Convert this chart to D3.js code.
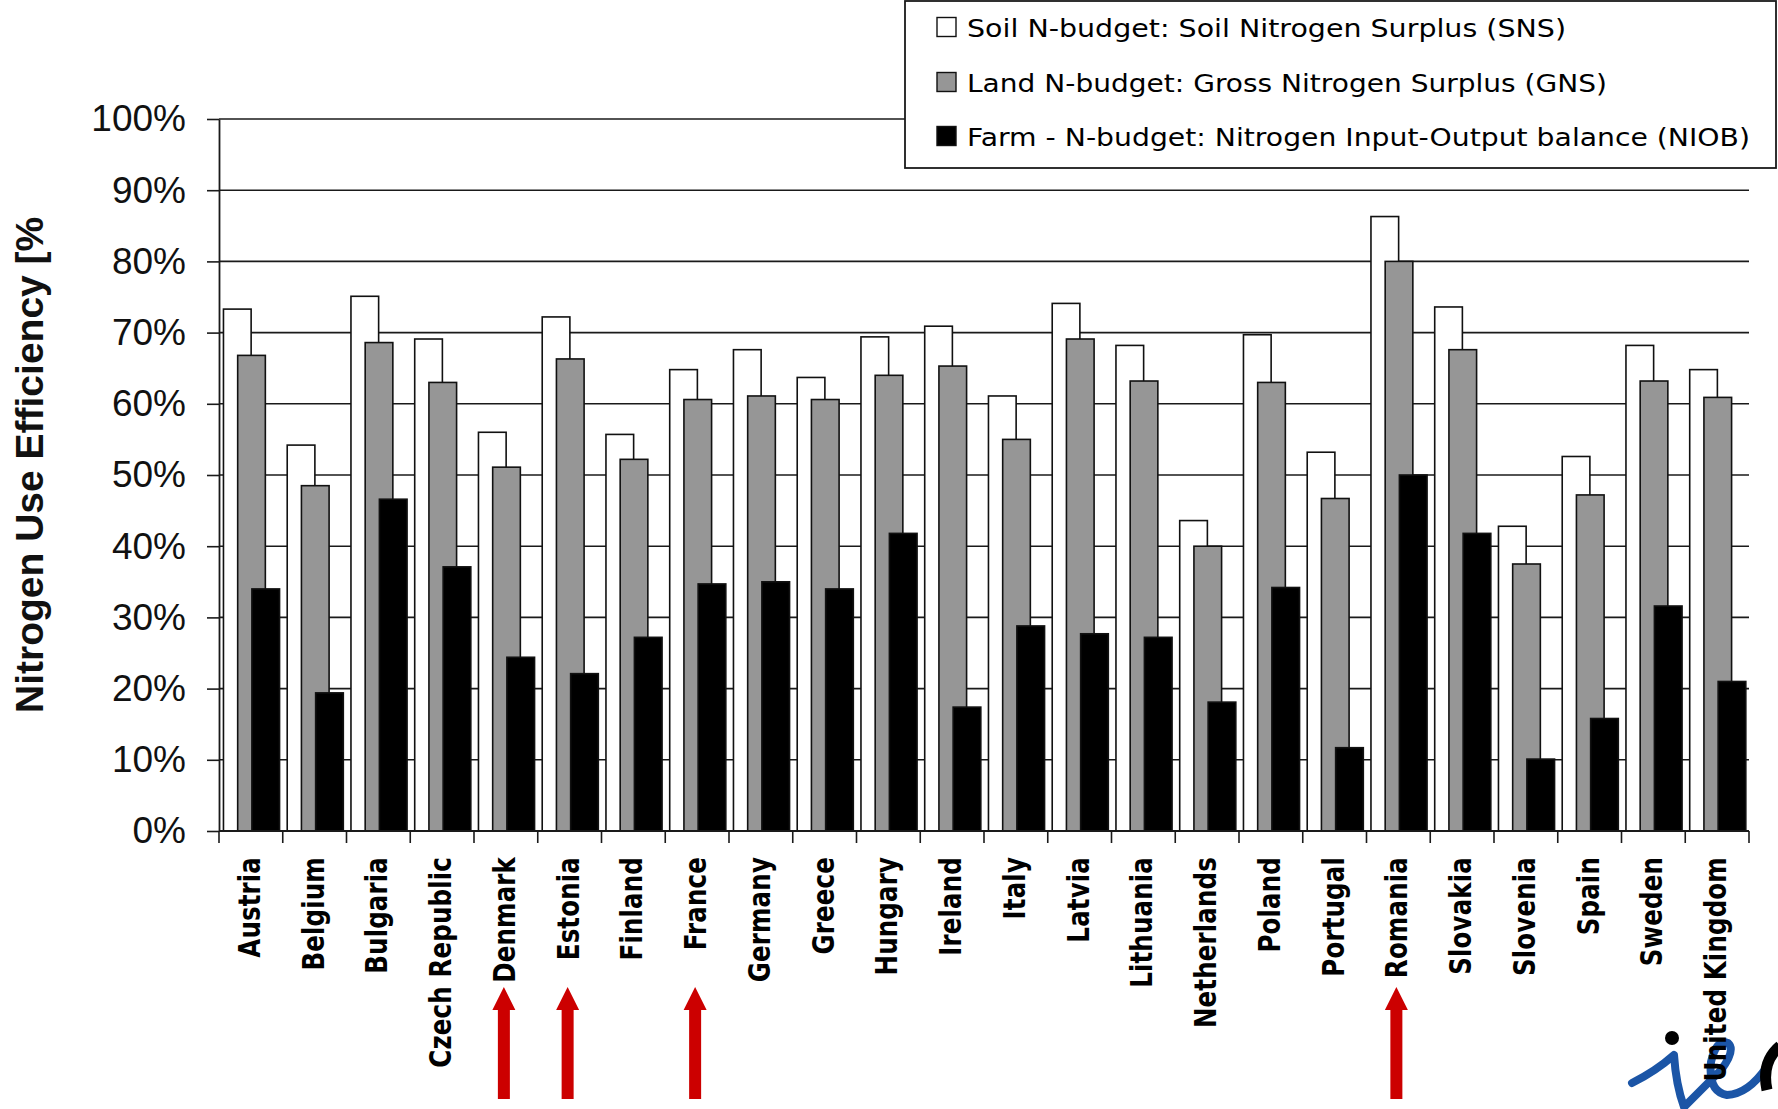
<!DOCTYPE html>
<html>
<head>
<meta charset="utf-8">
<script src="https://cdn.jsdelivr.net/npm/d3@7"></script>
<style>
  html, body { margin: 0; padding: 0; background: #fff; }
  svg { display: block; }
</style>
</head>
<body>
<svg id="chart" width="1778" height="1109"></svg>
<script>
// Nitrogen use efficiency per EU member state, three budget approaches
const categories = ["Austria", "Belgium", "Bulgaria", "Czech Republic", "Denmark", "Estonia",
  "Finland", "France", "Germany", "Greece", "Hungary", "Ireland", "Italy", "Latvia",
  "Lithuania", "Netherlands", "Poland", "Portugal", "Romania", "Slovakia", "Slovenia",
  "Spain", "Sweden", "United Kingdom"];

// Soil N-budget: Soil Nitrogen Surplus (SNS), %
const snsValues = [73.3, 54.2, 75.1, 69.1, 56.0, 72.2, 55.7, 64.8, 67.6, 63.7, 69.4, 70.9,
  61.1, 74.1, 68.2, 43.6, 69.7, 53.2, 86.3, 73.6, 42.8, 52.6, 68.2, 64.8];

// Land N-budget: Gross Nitrogen Surplus (GNS), %
const gnsValues = [66.8, 48.5, 68.6, 63.0, 51.1, 66.3, 52.2, 60.6, 61.1, 60.6, 64.0, 65.3,
  55.0, 69.1, 63.2, 40.0, 63.0, 46.7, 80.0, 67.6, 37.5, 47.2, 63.2, 60.9];

// Farm N-budget: Nitrogen Input-Output balance (NIOB), %
const niobValues = [34.0, 19.4, 46.6, 37.1, 24.4, 22.1, 27.2, 34.7, 35.0, 34.0, 41.8, 17.4,
  28.8, 27.7, 27.2, 18.1, 34.2, 11.7, 50.0, 41.8, 10.1, 15.8, 31.6, 21.0];

const seriesNames = [
  "Soil N-budget: Soil Nitrogen Surplus (SNS)",
  "Land N-budget: Gross Nitrogen Surplus (GNS)",
  "Farm - N-budget: Nitrogen Input-Output balance (NIOB)"
];
const seriesColors = ["#ffffff", "#969696", "#000000"];

const yTicks = [0, 10, 20, 30, 40, 50, 60, 70, 80, 90, 100];
const highlighted = ["Denmark", "Estonia", "France", "Romania"];

const yTitle = "Nitrogen Use Efficiency [%";

// ---------------------------------------------------------------
const svg = d3.select("#chart");
const plot = { left: 219, right: 1749, top: 119, bottom: 831 };

const x = d3.scaleBand().domain(categories).range([plot.left, plot.right]);
const y = d3.scaleLinear().domain([0, 100]).range([plot.bottom, plot.top]);
const bw = x.bandwidth();

const series = [snsValues, gnsValues, niobValues];
// three overlapping bars per country
const barW = bw * 0.434;
const barStep = bw * 0.223;
const barOffset = bw * 0.07;

// Logo (bottom right corner), drawn first so the axis labels sit on top
const logo = svg.append("g").attr("class", "logo");
logo.append("path")
  .attr("d", "M1632,1083 Q1656,1071 1674,1055 Q1676,1085 1684,1107 Q1703,1088 1721,1070 Q1736,1050 1728,1043 Q1716,1039 1711,1062 Q1708,1092 1727,1095 Q1748,1094 1766,1068")
  .attr("fill", "none").attr("stroke", "#1b55a6").attr("stroke-width", 8)
  .attr("stroke-linecap", "round").attr("stroke-linejoin", "round");
logo.append("circle").attr("cx", 1672).attr("cy", 1038).attr("r", 7).attr("fill", "#000");
logo.append("path")
  .attr("d", "M1767,1090 Q1761,1062 1780,1046")
  .attr("fill", "none").attr("stroke", "#000").attr("stroke-width", 11);

// Horizontal gridlines
svg.append("g").attr("class", "grid")
  .selectAll("line").data(yTicks.filter(d => d > 0)).join("line")
  .attr("x1", plot.left).attr("x2", plot.right)
  .attr("y1", d => y(d)).attr("y2", d => y(d))
  .attr("stroke", "#1a1a1a").attr("stroke-width", 1.6);

// Y axis
const yAxis = svg.append("g").attr("transform", `translate(${plot.left},0)`)
  .call(d3.axisLeft(y).tickValues(yTicks).tickSize(12).tickSizeOuter(0)
    .tickPadding(21).tickFormat(d => d + "%"));
yAxis.select(".domain").attr("stroke", "#1a1a1a").attr("stroke-width", 1.8);
yAxis.selectAll(".tick line").attr("stroke", "#1a1a1a").attr("stroke-width", 1.6);
yAxis.selectAll(".tick text")
  .attr("font-family", "'Liberation Sans', Arial, sans-serif")
  .attr("font-size", 37).attr("fill", "#111");

// Bars
const barsG = svg.append("g").attr("class", "bars");
series.forEach((vals, si) => {
  barsG.append("g")
    .selectAll("rect").data(categories.map((c, i) => ({ c, v: vals[i] }))).join("rect")
    .attr("x", d => x(d.c) + barOffset + si * barStep)
    .attr("width", barW)
    .attr("y", d => y(d.v))
    .attr("height", d => y(0) - y(d.v))
    .attr("fill", seriesColors[si])
    .attr("stroke", "#111").attr("stroke-width", 1.6);
});

// X axis baseline and category separators
svg.append("line")
  .attr("x1", plot.left).attr("x2", plot.right)
  .attr("y1", y(0)).attr("y2", y(0))
  .attr("stroke", "#1a1a1a").attr("stroke-width", 2);
const seps = categories.map(c => x(c)).concat([plot.right]);
svg.append("g").selectAll("line").data(seps).join("line")
  .attr("x1", d => d).attr("x2", d => d)
  .attr("y1", y(0)).attr("y2", y(0) + 12)
  .attr("stroke", "#1a1a1a").attr("stroke-width", 1.6);

// Category labels, rotated
svg.append("g").attr("class", "xlabels")
  .selectAll("text").data(categories).join("text")
  .attr("transform", d => `translate(${x(d) + bw / 2 - 2},857) rotate(-90) scale(1,1.25)`)
  .attr("text-anchor", "end")
  .attr("dy", "0.36em")
  .attr("font-family", "'DejaVu Sans', sans-serif")
  .attr("font-weight", "bold")
  .attr("font-size", 24.5)
  .attr("letter-spacing", 0.15)
  .attr("fill", "#000")
  .text(d => d);

// Red arrows under the highlighted countries
svg.append("g").attr("class", "arrows")
  .selectAll("path").data(highlighted).join("path")
  .attr("d", d => {
    const cx = x(d) + bw / 2 - 2;
    return `M${cx},987 L${cx + 11.5},1010 L${cx + 6},1010 L${cx + 6},1099 ` +
           `L${cx - 6},1099 L${cx - 6},1010 L${cx - 11.5},1010 Z`;
  })
  .attr("fill", "#cc0000");

// Y axis title
svg.append("text")
  .attr("transform", "translate(43,713) rotate(-90)")
  .attr("font-family", "'Liberation Sans', Arial, sans-serif")
  .attr("font-weight", "bold")
  .attr("font-size", 39)
  .attr("fill", "#111")
  .text(yTitle);

// Legend
const legend = svg.append("g").attr("class", "legend");
legend.append("rect")
  .attr("x", 905).attr("y", 1).attr("width", 871).attr("height", 167)
  .attr("fill", "#fff").attr("stroke", "#1a1a1a").attr("stroke-width", 1.8);
const legendRows = [27, 82, 136];
const legendWidths = [599, 640, 783];
seriesNames.forEach((name, i) => {
  legend.append("rect")
    .attr("x", 937).attr("y", legendRows[i] - 9.5).attr("width", 19).attr("height", 19)
    .attr("fill", seriesColors[i]).attr("stroke", "#111").attr("stroke-width", 1.4);
  legend.append("text")
    .attr("x", 967).attr("y", legendRows[i] + 10)
    .attr("font-family", "'DejaVu Sans', sans-serif")
    .attr("font-size", 25)
    .attr("textLength", legendWidths[i])
    .attr("lengthAdjust", "spacingAndGlyphs")
    .attr("fill", "#000")
    .text(name);
});
</script>
</body>
</html>
